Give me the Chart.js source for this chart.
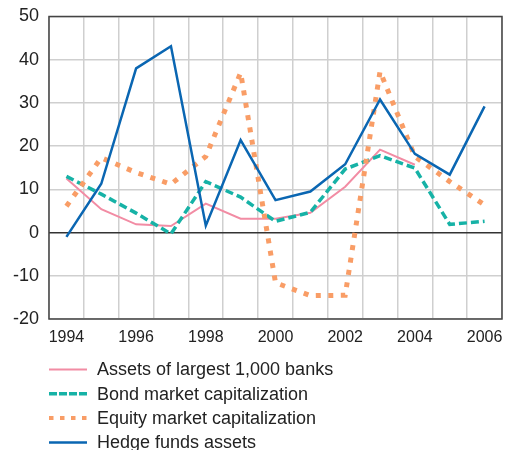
<!DOCTYPE html>
<html>
<head>
<meta charset="utf-8">
<script src="https://cdn.jsdelivr.net/npm/chart.js@4"></script>
<style>
  html, body { margin: 0; padding: 0; background: #fff; }
  .wrap { width: 506px; height: 450px; }
</style>
</head>
<body>
<div class="wrap"><canvas class="js-chart" width="506" height="450"></canvas></div>
<script>
const ctx = document.querySelector(".js-chart").getContext("2d");
const FONT = "'Liberation Sans', Arial, Helvetica, sans-serif";

// ===== data =====
const years = ["1994", "1995", "1996", "1997", "1998", "1999", "2000", "2001", "2002", "2003", "2004", "2005", "2006"];
const banksAssets = [12.5, 5.4, 1.9, 1.5, 6.7, 3.2, 3.2, 4.6, 10.6, 19.2, 15.7, null, null];
const bondCap = [13.0, 8.9, 4.5, -0.3, 11.8, 8.2, 2.6, 4.7, 14.7, 17.8, 14.9, 1.9, 2.6];
const equityCap = [6.1, 17.3, 13.9, 11.2, 17.6, 37.0, -11.6, -14.6, -14.5, 37.3, 17.6, 11.8, 6.4];
const hedgeFunds = [-1.0, 11.3, 38.0, 43.1, 1.6, 21.4, 7.5, 9.5, 15.8, 30.8, 18.2, 13.4, 29.2];
const seriesNames = [
  "Assets of largest 1,000 banks",
  "Bond market capitalization",
  "Equity market capitalization",
  "Hedge funds assets",
];
const yTicks = { min: -20, max: 50, step: 10 };

// frame round the plot
const frame = {
  id: "frame",
  afterDraw(chart) {
    const { left, right, top, bottom } = chart.chartArea;
    const c = chart.ctx;
    c.save();
    c.strokeStyle = "#444";
    c.lineWidth = 1.5;
    c.strokeRect(left, top, right - left, bottom - top);
    c.restore();
  },
};

// legend drawn one item per row, under the x axis
const rowLegend = {
  id: "rowLegend",
  afterDraw(chart) {
    const c = chart.ctx;
    const x0 = chart.chartArea.left;
    c.save();
    c.font = "18px " + FONT;
    c.textBaseline = "middle";
    chart.data.datasets.forEach((ds, i) => {
      const y = 369.5 + i * 24.3;
      c.beginPath();
      c.strokeStyle = ds.borderColor;
      c.lineWidth = Math.min(ds.borderWidth, 4);
      c.setLineDash(ds.legendDash || []);
      c.moveTo(x0, y);
      c.lineTo(x0 + 38, y);
      c.stroke();
      c.setLineDash([]);
      c.fillStyle = "#222";
      c.fillText(ds.label, x0 + 48, y + 1);
    });
    c.restore();
  },
};

new Chart(ctx, {
  type: "line",
  data: {
    labels: years,
    datasets: [
      {
        label: seriesNames[0],
        data: banksAssets,
        borderColor: "#f28ca4",
        borderWidth: 2,
        order: 4,
      },
      {
        label: seriesNames[1],
        data: bondCap,
        borderColor: "#16b2a6",
        borderWidth: 3.5,
        borderDash: [8, 4],
        legendDash: [8, 2],
        order: 3,
      },
      {
        label: seriesNames[2],
        data: equityCap,
        borderColor: "#f99d66",
        borderWidth: 5,
        borderDash: [5, 7.5],
        legendDash: [4.5, 6.5],
        order: 2,
      },
      {
        label: seriesNames[3],
        data: hedgeFunds,
        borderColor: "#0a66b2",
        borderWidth: 2.5,
        order: 1,
      },
    ],
  },
  options: {
    responsive: false,
    animation: false,
    layout: { padding: { top: 16.5, right: 4, left: 0, bottom: 101 } },
    elements: {
      point: { radius: 0 },
      line: { tension: 0, borderCapStyle: "butt" },
    },
    plugins: {
      legend: { display: false },
      tooltip: { enabled: false },
    },
    scales: {
      x: {
        type: "category",
        offset: true,
        grid: { offset: true, color: "#cfcfcf", lineWidth: 1.5, drawTicks: false },
        border: { display: false },
        ticks: {
          autoSkip: false,
          maxRotation: 0,
          padding: 9,
          color: "#222",
          font: { family: FONT, size: 16 },
          callback(value, index) {
            return index % 2 === 0 ? this.getLabelForValue(value) : "";
          },
        },
        afterFit(scale) {
          scale.height = 30;
          scale.paddingLeft = 0;
          scale.paddingRight = 0;
        },
      },
      y: {
        min: yTicks.min,
        max: yTicks.max,
        grid: {
          drawTicks: false,
          lineWidth: 1.5,
          color: (c) => (c.tick && c.tick.value === 0 ? "#333" : "#cfcfcf"),
        },
        border: { display: false },
        ticks: {
          stepSize: yTicks.step,
          padding: 10,
          color: "#222",
          font: { family: FONT, size: 18 },
        },
        afterFit(scale) {
          scale.width = 49;
          scale.paddingTop = 0;
          scale.paddingBottom = 0;
        },
      },
    },
  },
  plugins: [frame, rowLegend],
});
</script>
</body>
</html>
